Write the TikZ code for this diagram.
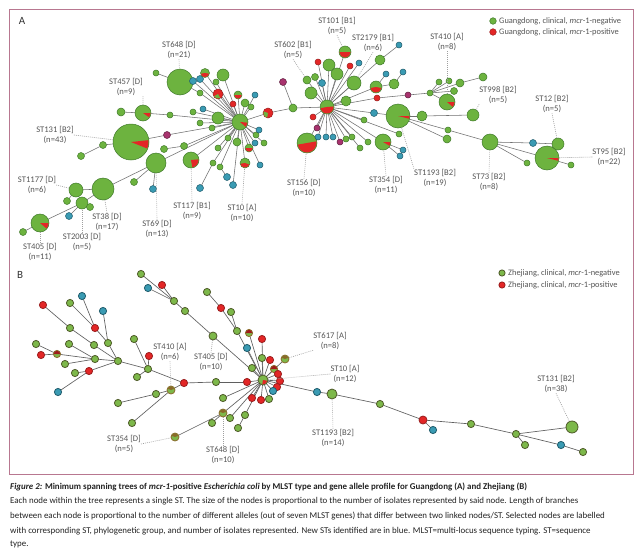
\documentclass[tikz,border=0pt]{standalone}
\usepackage{fontspec}
\setmainfont{Carlito}
\definecolor{gfill}{HTML}{6DB33F}
\definecolor{gdraw}{HTML}{3F7A2A}
\definecolor{rfill}{HTML}{E32626}
\definecolor{rdraw}{HTML}{9A1E1E}
\definecolor{bfill}{HTML}{3A9BB3}
\definecolor{bdraw}{HTML}{1F5B6B}
\definecolor{pfill}{HTML}{A8336E}
\definecolor{pdraw}{HTML}{5E1E3E}
\definecolor{frm}{HTML}{B87790}
\definecolor{edgec}{HTML}{707070}
\definecolor{labc}{HTML}{555555}
\definecolor{gBf}{HTML}{7DB84A}
\definecolor{gBd}{HTML}{4E5A28}
\definecolor{kBf}{HTML}{8A6A2A}
\definecolor{capc}{HTML}{222222}
\pgfdeclarelayer{bglayer}
\pgfdeclarelayer{edgelayer}
\pgfsetlayers{bglayer,edgelayer,main}
\tikzset{
  nd/.style={circle, inner sep=0pt, outer sep=0pt, line width=0.5pt},
  gA/.style={nd, fill=gfill, draw=gdraw, minimum size=2*#1pt}, gA/.default=3.5,
  rA/.style={nd, fill=rfill, draw=rdraw, minimum size=2*#1pt}, rA/.default=3.5,
  bA/.style={nd, fill=bfill, draw=bdraw, minimum size=2*#1pt}, bA/.default=3.5,
  pA/.style={nd, fill=pfill, draw=pdraw, minimum size=2*#1pt}, pA/.default=3.5,
  gB/.style={nd, fill=gBf, draw=gBd, line width=0.8pt, minimum size=2*#1pt}, gB/.default=3.6,
  rB/.style={nd, fill=rfill, draw=rdraw, line width=0.8pt, minimum size=2*#1pt}, rB/.default=3.6,
  bB/.style={nd, fill=bfill, draw=bdraw, line width=0.8pt, minimum size=2*#1pt}, bB/.default=3.6,
  kB/.style={nd, fill=gBf, draw=kBf, line width=0.8pt, minimum size=2*#1pt}, kB/.default=3.6,
  eA/.style={draw=edgec, line width=0.55pt},
  eB/.style={draw=edgec!85!black, line width=0.65pt},
  leader/.style={draw=gray!75, line width=0.6pt, dash pattern=on 0.9pt off 1.1pt},
  labtxt/.style={font=\fontsize{8.6}{10.8}\selectfont, text=labc, align=center, inner sep=0pt},
  legtxt/.style={font=\fontsize{8.4}{10}\selectfont, text=labc, anchor=west, inner sep=0pt},
  captxt/.style={font=\fontsize{8.9}{10}\selectfont, text=capc, anchor=base west, inner sep=0pt},
}
\newcommand\pslice[5]{\fill[#5] (#1.center) -- ++(#3:#2) arc[start angle=#3,end angle=#4,radius=#2] -- cycle;}
\begin{document}
\begin{tikzpicture}[x=1pt,y=-1pt]
\useasboundingbox (0,0) rectangle (639,549);
\begin{pgfonlayer}{bglayer}\fill[white] (0,0) rectangle (639,549);\end{pgfonlayer}
\draw[frm, line width=0.8pt] (9,9) rectangle (633,474);
\node[font=\fontsize{11}{12}\selectfont, text=black!80] (pA) at (22,21) {A};
\node[font=\fontsize{11}{12}\selectfont, text=black!80] (pB) at (20,275) {B};

% ---------- legend A
\node[gA=3.3] (lgA1) at (493,21) {};
\node[legtxt] (lgA1t) at (499,21) {Guangdong, clinical, \textit{mcr}-1-negative};
\node[rA=3.3] (lgA2) at (493,32) {};
\node[legtxt] (lgA2t) at (499,32) {Guangdong, clinical, \textit{mcr}-1-positive};
% ---------- legend B
\node[gB=3.1] (lgB1) at (502,273) {};
\node[legtxt] (lgB1t) at (508,273) {Zhejiang, clinical, \textit{mcr}-1-negative};
\node[rB=3.1] (lgB2) at (502,285) {};
\node[legtxt] (lgB2t) at (508,285) {Zhejiang, clinical, \textit{mcr}-1-positive};

% ================= PANEL A nodes
\node[gA=8] (h1) at (240,122) {}; \pslice{h1}{7.5}{5}{40}{rfill}
\node[gA=7] (h2) at (327,107) {}; \pslice{h2}{6.5}{-5}{170}{rfill}
\node[gA=4] (m1) at (293,108) {};
\node[rA=5] (m2) at (268,113) {}; \pslice{m2}{4.6}{100}{200}{gfill}
\node[pA] (m3) at (283,82) {};
% left side
\node[gA=18] (a131) at (131,142) {}; \pslice{a131}{17.5}{-6}{22}{rfill}
\node[gA] (a131a) at (103,145) {};
\node[gA] (a131b) at (81,156) {};
\node[pA] (ap1) at (167,135) {};
\node[gA] (ag1) at (184,146) {};
\node[gA] (ag2) at (164,149) {};
\node[gA=8] (a457) at (143,113) {}; \pslice{a457}{7.5}{0}{35}{rfill}
\node[gA=4] (a121) at (121,112) {};
\node[gA=3] (a170) at (170,115) {};
\node[gA=13] (a648) at (180,82) {};
\node[gA=3] (a156) at (156,73) {};
\node[gA=3] (a200) at (200,93) {};
\node[gA=10] (a69) at (156,163) {};
\node[gA] (a134) at (134,182) {};
\node[bA] (a153) at (153,189) {};
\node[gA=11] (a38) at (103,189) {};
\node[gA=7] (a1177) at (76,190) {};
\node[gA=6] (a2003) at (82,203) {};
\node[gA] (a67) at (67,201) {};
\node[gA] (a90) at (90,207) {};
\node[bA] (ab69) at (69,216) {};
\node[gA=9] (a405) at (40,223) {}; \pslice{a405}{8.5}{0}{40}{rfill}
\node[gA] (a23) at (23,232) {};
\node[gA=8] (a117) at (191,160) {}; \pslice{a117}{7.5}{-5}{80}{rfill}
\node[gA=5] (a10) at (245,163) {}; \pslice{a10}{4.6}{20}{170}{rfill}
% rays of h1
\node[bA] (u1) at (193,81) {};
\node[bA] (u2) at (200,79) {};
\node[gA=4.5] (u3) at (205,73) {}; \pslice{u3}{4.1}{10}{170}{rfill}
\node[gA=6] (u4) at (223,75) {};
\node[gA=3] (u5) at (216,82) {};
\node[rA=5] (u6) at (218,94) {}; \pslice{u6}{4.6}{60}{150}{gfill}
\node[gA=4] (u7) at (238,95) {}; \pslice{u7}{3.6}{0}{180}{rfill}
\node[rA=3] (u8) at (233,104) {};
\node[gA=4] (u9) at (245,103) {};
\node[gA=3] (u10) at (251,107) {};
\node[bA=3] (u11) at (255,95) {};
\node[bA=3] (u12) at (203,109) {};
\node[gA=3] (u13) at (193,112) {};
\node[gA=6] (u14) at (218,118) {};
\node[gA=3] (u15) at (212,128) {};
\node[gA=3] (d15) at (200,123) {};
\node[gA=3] (d1) at (218,148) {};
\node[gA=3] (d2) at (213,163) {};
\node[bA] (d3) at (200,188) {};
\node[gA=3] (d4) at (220,167) {};
\node[bA] (d5) at (227,177) {};
\node[bA] (d6) at (233,185) {};
\node[gA=3] (d7) at (228,138) {};
\node[gA=4] (d8) at (237,142) {};
\node[gA=4] (d9) at (249,148) {}; \pslice{d9}{3.6}{0}{180}{rfill}
\node[bA=3] (d10) at (255,143) {};
\node[gA=3] (d11) at (264,143) {};
\node[gA=3] (d12) at (256,135) {};
\node[bA=3] (d13) at (259,130) {};
\node[bA=3] (d14) at (260,165) {};
% right hub
\node[gA=4] (b602) at (307,80) {};
\node[gA] (r1) at (315,77) {};
\node[gA=6] (r2) at (311,93) {};
\node[bA] (r3) at (322,83) {};
\node[rA=3] (r4) at (318,62) {};
\node[gA=6] (r5) at (329,65) {};
\node[gA=6] (r6) at (337,74) {};
\node[gA=6] (b101) at (345,52) {}; \pslice{b101}{5.6}{0}{180}{rfill}
\node[rA=3] (r7) at (350,66) {};
\node[bA=3] (r8) at (359,63) {};
\node[gA=7] (b2179) at (354,83) {};
\node[gA=5] (r9) at (380,60) {};
\node[bA=3] (r10) at (399,45) {};
\node[gA=6] (r11) at (376,87) {}; \pslice{r11}{5.6}{10}{170}{rfill}
\node[bA=3] (r12) at (386,74) {};
\node[gA=5] (r13) at (394,84) {};
\node[bA=3] (r14) at (403,72) {};
\node[gA=5] (r15) at (346,101) {};
\node[rA=3] (r16) at (377,98) {};
\node[pA=3] (r17) at (408,95) {};
\node[gA=3] (r18) at (430,93) {};
\node[gA=3] (r19) at (439,82) {};
\node[gA=3] (r20) at (449,81) {};
\node[gA] (r21) at (454,91) {};
\node[gA=4] (r22) at (460,83) {};
\node[gA=4] (r23) at (483,77) {};
\node[gA=8] (b410) at (447,102) {}; \pslice{b410}{7.5}{0}{40}{rfill}
\node[bA] (r24) at (374,113) {};
\node[gA=12] (b1193) at (398,116) {}; \pslice{b1193}{11.5}{0}{14}{rfill}
\node[gA=5] (r25) at (422,116) {};
\node[gA=6] (b998) at (473,115) {};
\node[gA=3] (r26) at (448,130) {};
\node[gA=4] (r27) at (447,139) {};
\node[gA=8] (b73) at (490,142) {};
\node[bA] (r28) at (533,143) {};
\node[gA=6] (b12) at (558,144) {};
\node[gA=12] (b95) at (547,158) {}; \pslice{b95}{11.5}{0}{14}{rfill}
\node[gA=3] (r29) at (527,163) {};
\node[gA=3] (r30) at (571,165) {};
\node[gA=10] (b156) at (307,143) {}; \pslice{b156}{9.5}{-10}{170}{rfill}
\node[rA=3] (s1) at (313,117) {};
\node[pA=3] (s2) at (317,128) {};
\node[bA=3] (s3) at (318,137) {};
\node[bA=3] (s4) at (326,137) {};
\node[bA=3] (s5) at (333,137) {};
\node[pA=3] (s6) at (340,142) {};
\node[gA=3] (s7) at (346,139) {};
\node[gA=3] (s8) at (352,137) {};
\node[gA=3] (s9) at (360,148) {};
\node[gA=3] (s10) at (368,142) {};
\node[gA=8] (b354) at (383,142) {}; \pslice{b354}{7.5}{0}{30}{rfill}
\node[bA=3] (s11) at (403,150) {};
\node[bA=3] (s12) at (400,156) {};
\node[gA=3] (s13) at (364,120) {};
\node[gA=3] (s14) at (399,134) {};

\begin{pgfonlayer}{edgelayer}
\foreach \p/\q in {h1/m2,m2/m1,m1/h2,m1/m3,
  a131/a131a,a131a/a131b,a131/ap1,ap1/h1,ag2/ag1,ag1/h1,
  a121/a457,a457/a170,a170/h1,a156/a648,a648/a200,a200/h1,
  a38/a69,a69/h1,a69/a134,a69/a153,a38/a1177,a38/a2003,a1177/a67,a2003/a90,a2003/ab69,a2003/a405,a405/a23,
  h1/a117,h1/a10,h1/u1,h1/u2,h1/u3,h1/u4,h1/u5,h1/u6,h1/u7,h1/u8,h1/u9,h1/u10,h1/u11,h1/u12,h1/u13,h1/u14,h1/u15,h1/d15,
  h1/d1,h1/d2,d2/d3,h1/d4,d4/d5,h1/d6,h1/d7,h1/d8,h1/d9,h1/d10,h1/d11,h1/d12,h1/d13,h1/d14,
  h2/b602,h2/r1,h2/r2,h2/r3,h2/r4,h2/r5,h2/r6,h2/b101,h2/r7,h2/r8,h2/b2179,h2/r9,r9/r10,h2/r11,r11/r12,r11/r13,r13/r14,
  h2/r15,h2/r16,r16/r17,r17/r18,r18/r19,r18/r20,r18/r21,r18/r22,r22/r23,r18/b410,
  h2/r24,r24/b1193,b1193/r25,r25/b998,b1193/r26,r26/b73,b1193/r27,b73/r28,r28/b12,b73/b95,b73/r29,b95/r30,
  h2/b156,h2/s1,h2/s2,h2/s3,h2/s4,h2/s5,h2/s6,h2/s7,h2/s8,h2/s9,h2/s10,h2/b354,b354/s11,b354/s12,h2/s13,h2/s14}
  {\draw[eA] (\p) -- (\q);}
\end{pgfonlayer}

% labels A
\node[labtxt] (L648) at (179,50) {ST648 [D]\\(n=21)};
\node[labtxt] (L457) at (126,87) {ST457 [D]\\(n=9)};
\node[labtxt] (L131) at (55,135) {ST131 [B2]\\(n=43)};
\node[labtxt] (L1177) at (37,185) {ST1177 [D]\\(n=6)};
\node[labtxt] (L38) at (107,222) {ST38 [D]\\(n=17)};
\node[labtxt] (L2003) at (82,242) {ST2003 [D]\\(n=5)};
\node[labtxt] (L405) at (40,252) {ST405 [D]\\(n=11)};
\node[labtxt] (L69) at (157,229) {ST69 [D]\\(n=13)};
\node[labtxt] (L117) at (192,211) {ST117 [B1]\\(n=9)};
\node[labtxt] (L10) at (242,213) {ST10 [A]\\(n=10)};
\node[labtxt] (L156) at (304,188) {ST156 [D]\\(n=10)};
\node[labtxt] (L602) at (293,50) {ST602 [B1]\\(n=5)};
\node[labtxt] (L101) at (337,26) {ST101 [B1]\\(n=5)};
\node[labtxt] (L2179) at (373,43) {ST2179 [B1]\\(n=6)};
\node[labtxt] (L410) at (447,42) {ST410 [A]\\(n=8)};
\node[labtxt] (L998) at (498,95) {ST998 [B2]\\(n=5)};
\node[labtxt] (L12) at (552,104) {ST12 [B2]\\(n=5)};
\node[labtxt] (L95) at (609,157) {ST95 [B2]\\(n=22)};
\node[labtxt] (L73) at (489,182) {ST73 [B2]\\(n=8)};
\node[labtxt] (L1193) at (435,178) {ST1193 [B2]\\(n=19)};
\node[labtxt] (L354) at (386,185) {ST354 [D]\\(n=11)};
\foreach \p/\q in {L648.south/a648,L457.south east/a457,L131.east/a131,L1177.east/a1177,L38.north/a38,
  L2003.north/a2003,L405.north/a405,L69.north/a69,L117.north/a117,L10.north/a10,L156.north/b156,
  L602.south/b602,L101.south/b101,L2179.south/b2179,L410.south/b410,L998.south west/b998,L12.south/b12,
  L95.west/b95,L73.north/b73,L1193.north west/b1193,L354.north/b354}
  {\draw[leader] (\p) -- (\q);}

% ================= PANEL B nodes
\node[gB=5] (hB) at (263,380) {}; \pslice{hB}{4.4}{10}{100}{rfill}
\node[gB] (q1) at (141,274) {};
\node[rB] (q2) at (162,285) {};
\node[bB] (q3) at (148,288) {};
\node[gB] (q4) at (174,301) {};
\node[gB] (q5) at (185,311) {};
\node[gB=4] (B405) at (213,336) {};
\node[gB] (q6) at (207,292) {};
\node[rB] (q7) at (221,308) {};
\node[gB] (q8) at (231,312) {};
\node[gB] (q9) at (237,331) {};
\node[kB] (q10) at (249,333) {}; \pslice{q10}{3.2}{180}{360}{rfill!70!black}
\node[rB] (q11) at (262,339) {};
\node[bB] (q12) at (247,348) {};
\node[gB] (t1) at (262,358) {};
\node[rB] (t2) at (270,360) {};
\node[gB] (t3) at (252,368) {};
\node[kB] (t4) at (274,369) {}; \pslice{t4}{3.2}{180}{360}{rfill!70!black}
\node[rB] (t5) at (278,374) {};
\node[rB] (t6) at (280,381) {};
\node[rB] (t7) at (277,387) {};
\node[kB=4] (B617) at (285,359) {}; \pslice{B617}{3.5}{200}{340}{kBf}
\node[bB] (t8) at (273,391) {};
\node[gB] (t9) at (269,399) {};
\node[rB] (t10) at (261,400) {};
\node[rB] (t11) at (252,398) {};
\node[kB=4] (B648) at (223,413) {}; \pslice{B648}{3.5}{200}{340}{kBf}
\node[gB] (t12) at (223,398) {};
\node[gB] (t13) at (230,418) {};
\node[gB] (t14) at (212,423) {};
\node[gB] (t15) at (245,415) {};
\node[gB] (t16) at (238,428) {};
\node[kB=4] (BS354) at (175,437) {}; \pslice{BS354}{3.5}{200}{340}{kBf}
\node[rB] (w1) at (247,382) {};
\node[gB] (w2) at (216,382) {};
\node[rB] (w3) at (184,383) {};
\node[kB=4] (B410) at (171,390) {}; \pslice{B410}{3.5}{200}{340}{kBf}
\node[gB] (w4) at (156,394) {};
\node[gB] (w5) at (118,403) {};
\node[gB] (w6) at (132,423) {};
\node[bB] (x1) at (317,392) {};
\node[gB=5] (B1193) at (332,394) {};
\node[gB] (x2) at (380,404) {};
\node[rB=4] (x3) at (423,420) {};
\node[gB] (x4) at (471,424) {};
\node[gB] (x5) at (516,434) {};
\node[gB=6] (B131) at (572,427) {};
\node[bB] (x6) at (433,430) {};
\node[gB] (x7) at (525,445) {};
\node[bB] (x8) at (561,445) {};
\node[gB] (x9) at (583,452) {};
\node[rB] (c1) at (43,305) {};
\node[gB] (c2) at (70,303) {};
\node[bB] (c3) at (82,296) {};
\node[bB] (c4) at (103,311) {};
\node[gB] (c5) at (70,328) {};
\node[rB] (c6) at (95,328) {};
\node[gB] (c7) at (108,343) {};
\node[gB] (c8) at (94,345) {};
\node[gB] (c9) at (69,344) {};
\node[gB] (c10) at (36,344) {};
\node[rB] (c11) at (41,355) {};
\node[kB] (c12) at (57,354) {}; \pslice{c12}{3.2}{180}{360}{rfill!70!black}
\node[gB] (c13) at (65,364) {};
\node[gB] (c14) at (95,359) {};
\node[gB] (c15) at (118,361) {};
\node[gB] (c16) at (75,373) {};
\node[rB] (c17) at (89,371) {};
\node[bB] (c18) at (58,392) {};
\node[gB] (c19) at (134,339) {};
\node[rB] (c20) at (149,356) {};
\node[gB] (c21) at (148,369) {};
\node[gB] (c22) at (137,377) {};

\begin{pgfonlayer}{edgelayer}
\foreach \p/\q in {q1/q4,q2/q4,q3/q4,q4/q5,q5/B405,B405/hB,q6/q7,q7/q9,q8/q9,q9/hB,q10/hB,q11/hB,q12/hB,
  hB/t1,hB/t2,hB/t3,hB/t4,hB/t5,hB/t6,hB/t7,hB/B617,hB/t8,hB/t9,hB/t10,hB/t11,hB/t12,hB/B648,B648/t14,hB/t13,hB/t15,t15/t16,B648/BS354,
  hB/w1,w1/w2,w2/w3,w3/B410,B410/w4,w4/w5,B410/w6,w3/c21,
  hB/x1,x1/B1193,B1193/x2,x2/x3,x3/x4,x4/x5,x5/B131,x3/x6,x5/x7,x5/x8,x8/x9,
  c1/c5,c5/c8,c9/c14,c8/c15,c2/c6,c3/c6,c6/c7,c4/c7,c7/c15,c10/c12,c11/c12,c12/c14,c13/c14,c14/c15,
  c16/c17,c18/c17,c17/c15,c15/c21,c19/c21,c20/c21,c22/c21}
  {\draw[eB] (\p) -- (\q);}
\end{pgfonlayer}

% labels B
\node[labtxt] (M410) at (170,352) {ST410 [A]\\(n=6)};
\node[labtxt] (M405) at (211,362) {ST405 [D]\\(n=10)};
\node[labtxt] (M617) at (330,341) {ST617 [A]\\(n=8)};
\node[labtxt] (M10) at (345,374) {ST10 [A]\\(n=12)};
\node[labtxt] (M1193) at (333,438) {ST1193 [B2]\\(n=14)};
\node[labtxt] (M131) at (556,384) {ST131 [B2]\\(n=38)};
\node[labtxt] (M354) at (124,444) {ST354 [D]\\(n=5)};
\node[labtxt] (M648) at (223,455) {ST648 [D]\\(n=10)};
\foreach \p/\q in {M410.south/B410,M405.north/B405,M617.south west/B617,M10.west/hB,M1193.north/B1193,
  M131.south/B131,M354.east/BS354,M648.north/B648}
  {\draw[leader] (\p) -- (\q);}

% ================= caption
\node[captxt] (cp1) at (10,489) {\bfseries\textit{Figure 2:} Minimum spanning trees of \textit{mcr-1}-positive \textit{Escherichia coli} by MLST type and gene allele profile for Guangdong (A) and Zhejiang (B)};
\node[captxt] (cp2) at (10,503) {Each node within the tree represents a single ST. The size of the nodes is proportional to the number of isolates represented by said node. Length of branches};
\node[captxt] (cp3) at (10,518) {between each node is proportional to the number of different alleles (out of seven MLST genes) that differ between two linked nodes/ST. Selected nodes are labelled};
\node[captxt] (cp4) at (10,533) {with corresponding ST, phylogenetic group, and number of isolates represented. New STs identified are in blue. MLST=multi-locus sequence typing. ST=sequence};
\node[captxt] (cp5) at (10,546) {type.};
\end{tikzpicture}
\end{document}
